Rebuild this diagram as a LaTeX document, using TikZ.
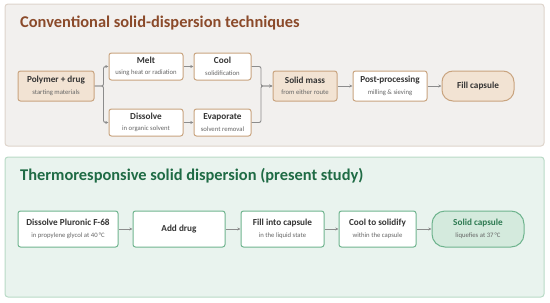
\documentclass[tikz,border=0pt]{standalone}
\usepackage{fontspec}
\setmainfont{Carlito}
\usetikzlibrary{arrows.meta}
\definecolor{tanfill}{HTML}{F2E3D3}
\definecolor{tanline}{HTML}{C9A47F}
\definecolor{browntitle}{HTML}{8B4A2A}
\definecolor{toppanel}{HTML}{F2F0EE}
\definecolor{toppanelline}{HTML}{DED4CB}
\definecolor{botpanel}{HTML}{E9F3EE}
\definecolor{botpanelline}{HTML}{B8DAC6}
\definecolor{greentitle}{HTML}{1F6B45}
\definecolor{greenline}{HTML}{6FB48E}
\definecolor{greenfill}{HTML}{D4EADD}
\definecolor{greentext}{HTML}{2E7A52}
\definecolor{txt}{HTML}{333333}
\definecolor{subtxt}{HTML}{666666}
\definecolor{arrowc}{HTML}{8C8C8C}
\tikzset{
  x=1pt, y=-1pt,
  box/.style={draw, line width=1pt, rounded corners=2.5pt, align=center, inner sep=0pt, text=txt},
  topbox/.style={box, draw=tanline, fill=white},
  tanbox/.style={box, draw=tanline, fill=tanfill},
  pill/.style={box, rounded corners=11pt},
  grbox/.style={box, draw=greenline, fill=white},
  conn/.style={draw=arrowc, line width=0.9pt, -{Stealth[length=3.2pt,width=3pt]}},
  branch/.style={conn, rounded corners=2pt},
  ttl/.style={anchor=west, font=\fontsize{16.4}{18}\selectfont\bfseries, inner sep=0pt},
}
\newcommand{\bt}[2]{{\fontsize{9.2}{10}\selectfont\bfseries #1}\\[-0.5pt]{\fontsize{6.7}{7.5}\selectfont\color{subtxt}#2}}
\begin{document}
\begin{tikzpicture}
\useasboundingbox (0,0) rectangle (550,303);
% panels
\draw[draw=toppanelline, fill=toppanel, line width=1pt, rounded corners=3pt] (5,4) rectangle (544,146);
\node[ttl, text=browntitle] (t1) at (20,23) {Conventional solid-dispersion techniques};
\draw[draw=botpanelline, fill=botpanel, line width=1pt, rounded corners=3pt] (5,157) rectangle (544,297);
\node[ttl, text=greentitle] (t2) at (20,175.5) {Thermoresponsive solid dispersion (present study)};
% top nodes
\node[tanbox, minimum width=76pt, minimum height=30pt] (poly) at (56,86) {\bt{Polymer + drug}{starting materials}};
\node[topbox, minimum width=74pt, minimum height=27pt] (melt) at (146,66.5) {\bt{Melt}{using heat or radiation}};
\node[topbox, minimum width=57pt, minimum height=27pt] (cool) at (222.5,66.5) {\bt{Cool}{solidification}};
\node[topbox, minimum width=74pt, minimum height=27pt] (diss) at (146,122.5) {\bt{Dissolve}{in organic solvent}};
\node[topbox, minimum width=57pt, minimum height=27pt] (evap) at (222.5,122.5) {\bt{Evaporate}{solvent removal}};
\node[tanbox, minimum width=64pt, minimum height=30pt] (solid) at (305,86) {\bt{Solid mass}{from either route}};
\node[topbox, minimum width=74pt, minimum height=30pt] (post) at (390,86) {\bt{Post-processing}{milling \& sieving}};
\node[tanbox, pill, minimum width=72pt, minimum height=30pt, font=\fontsize{9.2}{10}\selectfont\bfseries] (fill) at (478,86) {Fill capsule};
% top connectors
\coordinate (split) at (103.5,86);
\coordinate (join) at (261,86);
\draw[branch] (poly.east) -- (split) |- (melt.west);
\draw[branch] (poly.east) -- (split) |- (diss.west);
\draw[conn] (melt) -- (cool);
\draw[conn] (diss) -- (evap);
\draw[branch] (cool.east) -| (join) -- (solid.west);
\draw[branch] (evap.east) -| (join) -- (solid.west);
\draw[conn] (solid) -- (post);
\draw[conn] (post) -- (fill);
% bottom nodes
\node[grbox, minimum width=100pt, minimum height=36pt] (d1) at (68,229) {\bt{Dissolve Pluronic F-68}{in propylene glycol at 40\,°C}};
\node[grbox, minimum width=92pt, minimum height=36pt, font=\fontsize{9.2}{10}\selectfont\bfseries] (add) at (179,229) {Add drug};
\node[grbox, minimum width=83pt, minimum height=36pt] (fin) at (282.5,229) {\bt{Fill into capsule}{in the liquid state}};
\node[grbox, minimum width=77pt, minimum height=36pt] (cs) at (377.5,229) {\bt{Cool to solidify}{within the capsule}};
\node[box, pill, draw=greenline, fill=greenfill, minimum width=92pt, minimum height=36pt, rounded corners=13pt] (cap) at (478,229) {{\fontsize{9.2}{10}\selectfont\bfseries\color{greentext}Solid capsule}\\[-0.5pt]{\fontsize{6.7}{7.5}\selectfont\color{subtxt}liquefies at 37\,°C}};
\draw[conn] (d1) -- (add);
\draw[conn] (add) -- (fin);
\draw[conn] (fin) -- (cs);
\draw[conn] (cs) -- (cap);
\end{tikzpicture}
\end{document}
